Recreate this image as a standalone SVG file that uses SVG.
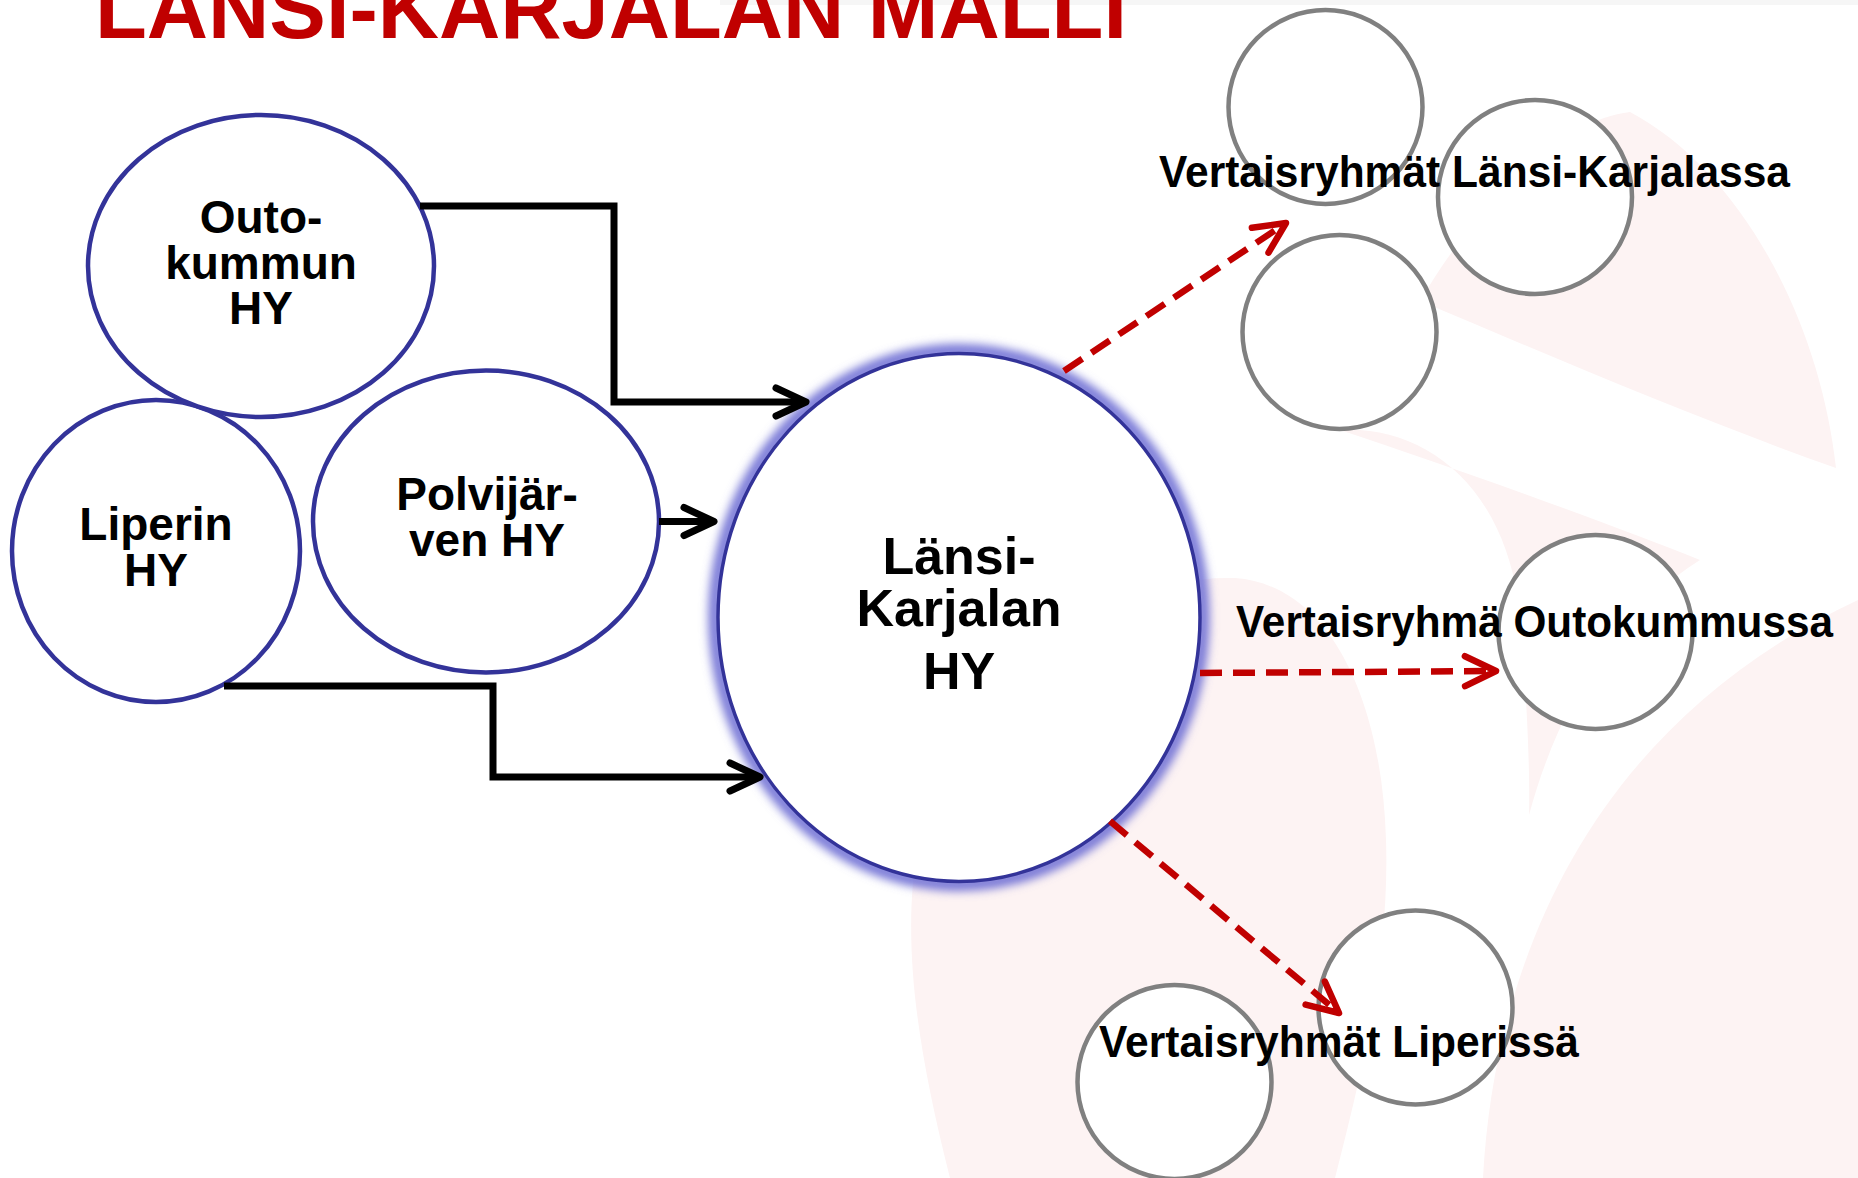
<svg xmlns="http://www.w3.org/2000/svg" width="1858" height="1178" viewBox="0 0 1858 1178">
<style>
.bg{fill:#fdf3f3;stroke:none}
.hy{fill:#fff;stroke:#333399;stroke-width:4.5}
.grp{fill:#fff;stroke:#808080;stroke-width:4.5}
.lbl{font-family:"Liberation Sans",Arial,sans-serif;font-weight:bold;fill:#000}
.node{font-size:46px;text-anchor:middle}
.main{font-size:52px;text-anchor:middle}
.side{font-size:44px}
.blk{fill:none;stroke:#000;stroke-width:7;stroke-linejoin:miter;marker-end:url(#arrBlack)}
.red{fill:none;stroke:#c00000;stroke-width:6.5;stroke-dasharray:22 11;marker-end:url(#arrRed)}
</style>
<defs>
<marker id="arrBlack" markerUnits="userSpaceOnUse" viewBox="-40 -20 46 40" refX="0" refY="0" markerWidth="46" markerHeight="40" orient="auto" overflow="visible">
<path d="M-30,-14 L0,0 L-30,14" fill="none" stroke="#000" stroke-width="7" stroke-linecap="round" stroke-linejoin="round"/>
</marker>
<marker id="arrRed" markerUnits="userSpaceOnUse" viewBox="-40 -20 46 40" refX="0" refY="0" markerWidth="46" markerHeight="40" orient="auto" overflow="visible">
<path d="M-31,-15 L0,0 L-31,15" fill="none" stroke="#c00000" stroke-width="6.5" stroke-linecap="round" stroke-linejoin="round"/>
</marker>
<filter id="glow" x="-10%" y="-10%" width="120%" height="120%">
<feGaussianBlur stdDeviation="5"/>
</filter>
</defs>
<rect width="1858" height="1178" fill="#fff"/>
<g id="background">
<rect x="720" y="0" width="1138" height="5" fill="#f6f6f6"/>
<path class="bg" d="M950 1178 C905 1000 890 860 955 740 C1025 630 1140 575 1235 578 C1330 585 1382 700 1386 840 C1390 960 1360 1080 1335 1178 Z"/>
<path class="bg" d="M1483 1178 C1495 950 1600 720 1858 600 L1858 1178 Z"/>
<path class="bg" d="M1420 301 C1480 200 1560 120 1630 112 C1740 170 1820 320 1836 468 C1700 420 1560 360 1420 301 Z"/>
<path class="bg" d="M1340 430 C1420 425 1500 480 1518 600 C1528 700 1530 780 1529 815 C1560 700 1620 610 1700 560 C1600 520 1460 470 1340 430 Z"/>
</g>
<text x="95" y="38" class="lbl" font-size="86" style="fill:#c00000" textLength="1032" lengthAdjust="spacingAndGlyphs">LÄNSI-KARJALAN MALLI</text>
<g id="node-liperin">
<ellipse class="hy" cx="156" cy="551" rx="144" ry="151"/>
<text class="lbl node" x="156" y="540">Liperin</text>
<text class="lbl node" x="156" y="586">HY</text>
</g>
<g id="node-outokummun">
<ellipse class="hy" cx="261" cy="266" rx="173" ry="151"/>
<text class="lbl node" x="261" y="233">Outo-</text>
<text class="lbl node" x="261" y="279">kummun</text>
<text class="lbl node" x="261" y="324">HY</text>
</g>
<g id="node-polvijarven">
<ellipse class="hy" cx="486" cy="521.5" rx="173" ry="151"/>
<text class="lbl node" x="487" y="510">Polvijär-</text>
<text class="lbl node" x="487" y="556">ven HY</text>
</g>
<g id="node-lansikarjalan">
<ellipse cx="959" cy="617.5" rx="244" ry="267" fill="none" stroke="#7474d6" stroke-width="13" filter="url(#glow)"/>
<ellipse cx="959" cy="617.5" rx="241" ry="264" fill="#fff" stroke="#333399" stroke-width="3.5"/>
<text class="lbl main" x="959" y="574">Länsi-</text>
<text class="lbl main" x="959" y="626">Karjalan</text>
<text class="lbl main" x="959" y="689">HY</text>
</g>
<g id="group-lansikarjala">
<circle class="grp" cx="1325.5" cy="107" r="97"/>
<circle class="grp" cx="1535" cy="197" r="97"/>
<circle class="grp" cx="1339.5" cy="332" r="97"/>
<text class="lbl side" x="1159" y="187" textLength="631" lengthAdjust="spacingAndGlyphs">Vertaisryhmät Länsi-Karjalassa</text>
</g>
<g id="group-outokumpu">
<circle class="grp" cx="1595.5" cy="632" r="97"/>
<text class="lbl side" x="1236" y="637" textLength="597" lengthAdjust="spacingAndGlyphs">Vertaisryhmä Outokummussa</text>
</g>
<g id="group-liperi">
<circle class="grp" cx="1415.5" cy="1007.5" r="97"/>
<circle class="grp" cx="1174.5" cy="1082" r="97"/>
<text class="lbl side" x="1099" y="1057" textLength="480" lengthAdjust="spacingAndGlyphs">Vertaisryhmät Liperissä</text>
</g>
<g id="connectors">
<path class="blk" d="M420 206 H614 V402 H806"/>
<path class="blk" d="M659 521.5 H714"/>
<path class="blk" d="M224 686 H493 V777 H760"/>
<path class="red" d="M1064 371 L1286 223"/>
<path class="red" d="M1200 673 L1496 671"/>
<path class="red" d="M1110 821 L1339 1013"/>
</g>
</svg>
